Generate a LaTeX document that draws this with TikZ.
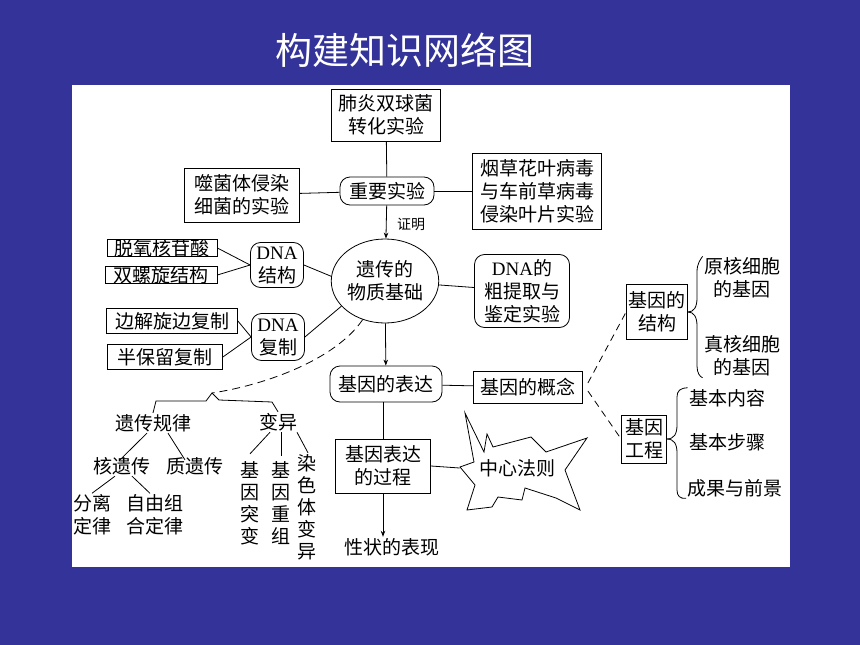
\documentclass[tikz,border=0pt]{standalone}
\usepackage{fontspec}
\setmainfont{Noto Sans CJK SC}
\newfontfamily\dnafont{Liberation Serif}
\usetikzlibrary{shapes.geometric,arrows.meta,positioning}
\definecolor{slideblue}{RGB}{51,51,153}
\tikzstyle{rect}=[rectangle, draw=black, line width=0.8pt, align=center, inner xsep=2pt, inner ysep=1pt]
\tikzstyle{roundrect}=[rect, rounded corners=10pt]
\tikzstyle{oval}=[ellipse, draw=black, line width=0.8pt, align=center, inner sep=0pt, minimum width=106pt, minimum height=84pt]
\tikzstyle{txt}=[align=center, inner sep=1pt]
\tikzstyle{vtxt}=[txt, font=\fontsize{19}{22}\selectfont]
\newcommand{\DNA}{{\dnafont DNA}}

\begin{document}
\begin{tikzpicture}[x=1pt, y=1pt, font=\fontsize{19}{23}\selectfont, line width=0.8pt, >={Stealth[length=6pt,width=4.5pt]}]
\useasboundingbox (0,0) rectangle (860,-645);
\fill[slideblue] (0,0) rectangle (860,-645);
\fill[white] (72,-85) rectangle (790,-567);

\node[txt, text=white, font=\fontsize{37}{40}\selectfont](title) at (405,-50){构建知识网络图};

% experiments
\node[rect, minimum width=109pt, minimum height=52pt](feiyan) at (386,-115){肺炎双球菌\\转化实验};
\node[roundrect, minimum width=94pt, minimum height=28pt](zhongyao) at (387,-191){重要实验};
\node[rect, minimum width=115pt, minimum height=54pt](shijunti) at (242,-195){噬菌体侵染\\细菌的实验};
\node[rect, minimum width=129pt, minimum height=76pt](yancao) at (537,-191){烟草花叶病毒\\与车前草病毒\\侵染叶片实验};
\node[txt, font=\fontsize{14}{16}\selectfont](zhengming) at (411,-224){证明};

% material basis
\node[oval](wuzhi) at (385,-281){遗传的\\物质基础};
\node[roundrect, minimum width=95pt, minimum height=73pt](tiqu) at (522,-291){\DNA 的\\粗提取与\\鉴定实验};
\node[roundrect, minimum width=53pt, minimum height=45pt](dnaJiegou) at (277,-265){\DNA\\结构};
\node[rect, minimum width=110pt, inner ysep=0pt](tuoyang) at (162,-248){脱氧核苷酸};
\node[rect, minimum width=112pt, inner ysep=0pt](shuangluo) at (161,-275){双螺旋结构};
\node[roundrect, minimum width=53pt, minimum height=47pt](dnaFuzhi) at (278,-337){\DNA\\复制};
\node[rect, minimum width=131pt, minimum height=25pt](bianjie) at (172,-321){边解旋边复制};
\node[rect, minimum width=115pt, minimum height=25pt](banbao) at (165,-357){半保留复制};

% expression
\node[roundrect, minimum width=112pt, minimum height=36pt](biaoda) at (386,-384){基因的表达};
\node[rect, minimum width=109pt, minimum height=32pt](gainian) at (528,-387){基因的概念};
\node[rect, minimum width=95pt, minimum height=54pt](guocheng) at (383,-466){基因表达\\的过程};
\node[txt, minimum width=114pt](zhongxin) at (517,-468){中心法则};
\node[txt](xingzhuang) at (392,-547){性状的表现};

% laws and variation
\coordinate (fork) at (212,-393);
\node[txt](guilv) at (153,-423){遗传规律};
\node[txt](bianyi) at (278,-422){变异};
\node[txt](heyichuan) at (122,-466){核遗传};
\node[txt](zhiyichuan) at (195,-466){质遗传};
\node[txt](fenli) at (92,-515){分离\\定律};
\node[txt](ziyou) at (155,-515){自由组\\合定律};
\node[vtxt](tubian) at (250,-503){基\\因\\突\\变};
\node[vtxt](chongzu) at (281,-503){基\\因\\重\\组};
\node[vtxt](ranse) at (307,-507){染\\色\\体\\变\\异};

% gene structure and engineering
\node[rect, minimum width=60pt, minimum height=55pt](jiegou) at (657,-312){基因的\\结构};
\node[txt](yuanhe) at (742,-278){原核细胞\\的基因};
\node[txt](zhenhe) at (742,-356){真核细胞\\的基因};
\node[rect, minimum width=45pt, minimum height=48pt](gongcheng) at (644,-439){基因\\工程};
\node[txt](neirong) at (727,-398){基本内容};
\node[txt](buzhou) at (727,-442){基本步骤};
\node[txt](chengguo) at (735,-488){成果与前景};

\draw[shift={(zhongxin.center)}] (-52,55) -- (-33,16) -- (-30,34) -- (-24,21) -- (14,31) -- (29,16) -- (70,30) -- (48,-2) -- (63,-42) -- (39,-30) -- (8,-20) -- (5,-32) -- (-19,-29) -- (-25,-39) -- (-50,-42) -- (-42,-17) -- (-57,1) -- (-43,6) -- cycle;

\path[draw] (feiyan)edge(zhongyao);
\path[draw] (shijunti)edge(zhongyao);
\path[draw] (zhongyao)edge(yancao);
\path[->, draw] (zhongyao)edge(wuzhi);
\path[draw] (wuzhi)edge(tiqu);
\path[draw] (tuoyang.east)edge(dnaJiegou.west);
\path[draw] (shuangluo.east)edge(dnaJiegou.west);
\path[draw] (dnaJiegou.east)edge(wuzhi.175);
\path[draw] (bianjie.east)edge(dnaFuzhi.west);
\path[draw] (banbao.east)edge(dnaFuzhi.west);
\path[draw] (dnaFuzhi.east)edge(wuzhi.210);
\path[->, draw] (wuzhi)edge(biaoda);
\path[draw] (biaoda)edge(gainian);
\draw (guocheng.north |- biaoda.south) -- (guocheng.north);
\draw (guocheng.east) -- (zhongxin.west);
\draw[->] (guocheng.south) -- (guocheng.south |- xingzhuang.north);

\draw[dash pattern=on 8pt off 5pt] (wuzhi.240) .. controls (335,-360) and (265,-385) .. (fork);
\draw (guilv.north) -- (156,-401) -- (206,-401) -- (fork) -- (219,-400) -- (272,-402) -- (bianyi.north);
\draw ([xshift=-6pt]guilv.south) -- ([xshift=-2pt,yshift=-4pt]heyichuan.north);
\draw ([xshift=15pt]guilv.south) -- ([xshift=-10pt,yshift=-4pt]zhiyichuan.north);
\draw ([xshift=-7pt]heyichuan.south) -- (fenli.north);
\draw ([xshift=10pt]heyichuan.south) -- ([xshift=-5pt]ziyou.north);
\draw ([xshift=-8pt]bianyi.south) -- ([yshift=6pt]tubian.north);
\draw (bianyi.south -| chongzu.north) -- ([yshift=4pt]chongzu.north);
\draw ([xshift=19pt]bianyi.south) -- ([xshift=1pt]ranse.north);

\draw[dash pattern=on 7pt off 5pt] ([shift={(5,4)}]gainian.east) -- (jiegou.west);
\draw[dash pattern=on 7pt off 5pt] ([shift={(5,-4)}]gainian.east) -- (gongcheng.west);
\draw (jiegou.east) .. controls (694,-312) and (697,-307) .. (697,-298) -- (697,-272) .. controls (697,-264) and (700,-260) .. (yuanhe.north west);
\draw (jiegou.east) .. controls (694,-312) and (697,-317) .. (697,-326) -- (697,-366) .. controls (697,-373) and (700,-377) .. (zhenhe.south west);
\draw (gongcheng.east) .. controls (674,-439) and (677,-434) .. (677,-425) -- (677,-397) .. controls (677,-391) and (680,-388) .. (neirong.north west);
\draw (gongcheng.east) .. controls (674,-439) and (677,-444) .. (677,-453) -- (677,-490) .. controls (677,-496) and (680,-499) .. (chengguo.south west);
\end{tikzpicture}
\end{document}
